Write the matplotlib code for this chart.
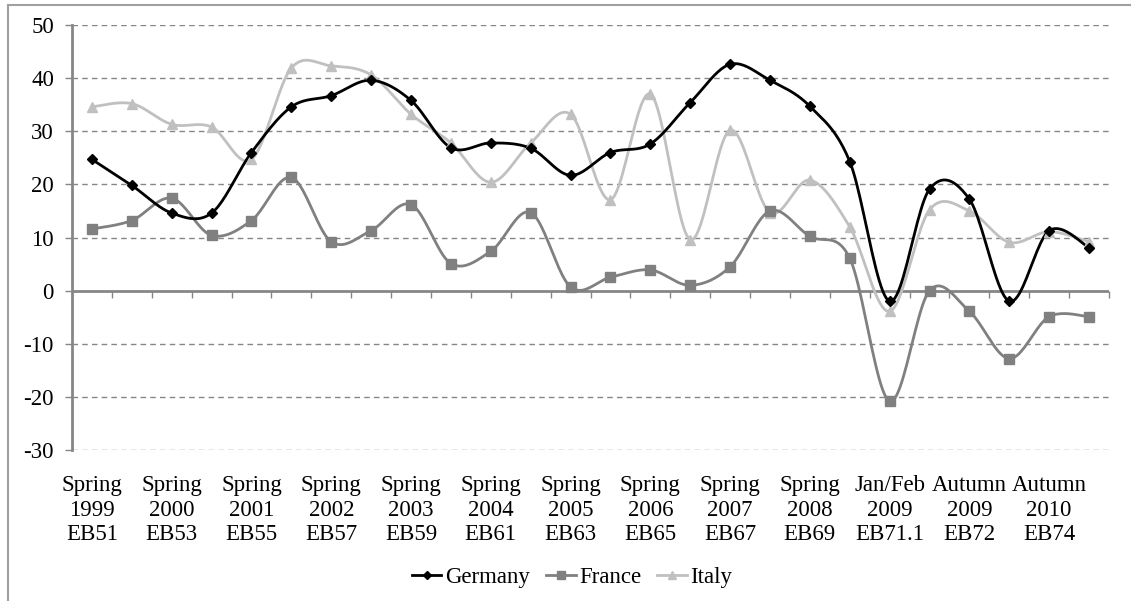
import numpy as np
import matplotlib
matplotlib.use("Agg")
import matplotlib.pyplot as plt
from matplotlib.lines import Line2D

# survey waves (every second one carries a label)
labels = ["Spring\n1999\nEB51", "Spring\n2000\nEB53", "Spring\n2001\nEB55",
          "Spring\n2002\nEB57", "Spring\n2003\nEB59", "Spring\n2004\nEB61",
          "Spring\n2005\nEB63", "Spring\n2006\nEB65", "Spring\n2007\nEB67",
          "Spring\n2008\nEB69", "Jan/Feb\n2009\nEB71.1", "Autumn\n2009\nEB72",
          "Autumn\n2010\nEB74"]
n_waves = 26

germany = [24.7, 19.8, 14.6, 14.6, 26.0, 34.6, 36.7, 39.6, 35.8, 26.9, 27.8, 26.8, 21.7,
           26.0, 27.6, 35.4, 42.6, 39.6, 34.7, 24.3, -2.0, 19.1, 17.2, -2.0, 11.3, 8.1]
france = [11.6, 13.2, 17.4, 10.4, 13.2, 21.3, 9.2, 11.3, 16.2, 5.1, 7.4, 14.7, 0.7,
          2.5, 3.9, 1.0, 4.5, 15.0, 10.2, 6.1, -20.8, 0.0, -3.9, -12.8, -4.9, -4.9]
italy = [34.6, 35.2, 31.3, 30.8, 24.7, 41.9, 42.3, 40.6, 33.2, 27.8, 20.4, 27.8, 33.2,
         17.1, 37.0, 9.6, 30.2, 14.7, 20.8, 12.0, -3.9, 15.2, 15.0, 9.1, 11.1, 9.2]

plt.rcParams['font.family'] = ['Liberation Serif', 'DejaVu Serif']
plt.rcParams['axes.unicode_minus'] = False
fs = 16.5
grey = '#868686'


def smooth(x, y, steps=24):
    # Excel-style smoothed line (Catmull-Rom through the points)
    x = np.asarray(x, float)
    y = np.asarray(y, float)
    px = np.concatenate([[x[0]], x, [x[-1]]])
    py = np.concatenate([[y[0]], y, [y[-1]]])
    xs, ys = [], []
    t = np.linspace(0, 1, steps)
    for i in range(1, len(px) - 2):
        b0 = np.array([px[i], py[i]])
        b3 = np.array([px[i + 1], py[i + 1]])
        b1 = b0 + (np.array([px[i + 1], py[i + 1]]) - np.array([px[i - 1], py[i - 1]])) / 6
        b2 = b3 - (np.array([px[i + 2], py[i + 2]]) - np.array([px[i], py[i]])) / 6
        pts = (np.outer((1 - t) ** 3, b0) + np.outer(3 * (1 - t) ** 2 * t, b1)
               + np.outer(3 * (1 - t) * t ** 2, b2) + np.outer(t ** 3, b3))
        xs.extend(pts[:, 0])
        ys.extend(pts[:, 1])
    return xs, ys


fig = plt.figure(figsize=(11.31, 6.01), dpi=100)
ax = fig.add_axes([72 / 1131, 151 / 601, 1037 / 1131, 425 / 601])

x = np.arange(n_waves)
series = [("Germany", germany, 'black', 'D', 5),
          ("France", france, '#808080', 's', 7),
          ("Italy", italy, '#c0c0c0', '^', 7)]
for name, vals, col, mk, ms in reversed(series):
    sx, sy = smooth(x, vals)
    ax.plot(sx, sy, color=col, lw=2, zorder=3)
    ax.plot(x, vals, ls='none', marker=mk, ms=ms, color=col, zorder=4)

ax.set_xlim(-0.5, n_waves - 0.5)
ax.set_ylim(-30, 50)
ax.set_yticks(range(-30, 51, 10))
ax.tick_params(axis='y', length=5, width=1, color=grey, labelsize=fs, pad=8)
for v in range(-30, 51, 10):
    if v != 0:
        ax.axhline(v, color=grey, lw=1, ls=(0, (4, 3)), zorder=1)
ax.axhline(0, color=grey, lw=2, zorder=2)

ax.set_xticks(np.arange(0, n_waves, 2))
ax.set_xticklabels(labels, fontsize=fs, linespacing=1.22)
ax.tick_params(axis='x', length=0, pad=18)

sec = ax.secondary_xaxis(0.375)
sec.set_xticks(np.arange(-0.5, n_waves, 1))
sec.tick_params(axis='x', length=5, width=1, color=grey, labelbottom=False, direction='out')
sec.spines['bottom'].set_visible(False)

for s in ['top', 'right', 'bottom']:
    ax.spines[s].set_visible(False)
ax.spines['left'].set_color(grey)
ax.spines['left'].set_linewidth(2)

handles = [Line2D([], [], color=c, lw=2, marker=m, ms=ms * 0.8) for _, _, c, m, ms in series]
fig.legend(handles, [s[0] for s in series], loc='center', bbox_to_anchor=(572 / 1131, 1 - 577 / 601),
           ncol=3, frameon=False, fontsize=fs, handlelength=1.3, handletextpad=0.15,
           columnspacing=0.7)

# chart border (only top and left visible)
fig.add_artist(Line2D([8 / 1131, 1], [1 - 5 / 601, 1 - 5 / 601], transform=fig.transFigure,
                      color='#a0a0a0', lw=1.5))
fig.add_artist(Line2D([8 / 1131, 8 / 1131], [0, 1 - 5 / 601], transform=fig.transFigure,
                      color='#a0a0a0', lw=1.5))

fig.savefig("out.png", dpi=100)
